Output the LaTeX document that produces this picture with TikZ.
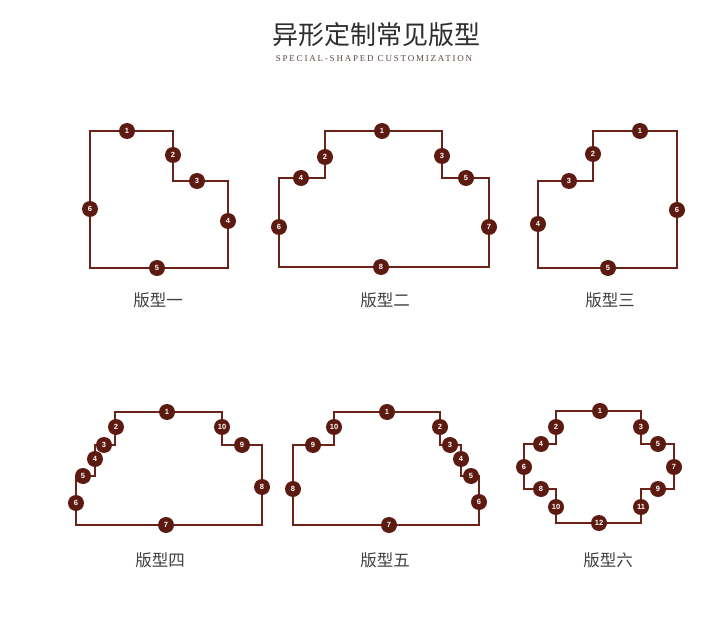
\documentclass[tikz,border=0pt]{standalone}
\usepackage{fontspec}
\setmainfont{Liberation Serif}
\newfontfamily\cjk{Noto Sans CJK SC}
\newfontfamily\numfont{Liberation Sans}
\definecolor{wine}{HTML}{5C1A11}
\definecolor{wineline}{HTML}{6A2319}
\definecolor{subgray}{HTML}{5E4843}

\begin{document}
\begin{tikzpicture}[x=1pt,y=-1pt,
  outline/.style={wineline,line width=1.8pt},
  num/.style={circle,fill=wine,inner sep=0pt,minimum size=16pt,text=white,
    font=\numfont\bfseries\fontsize{7.5}{7.5}\selectfont},
  caption/.style={text=black!75,font=\cjk\fontsize{16.5}{16.5}\selectfont}]
  \useasboundingbox[fill=white] (0,0) rectangle (720,620);

  % title
  \node[text=black!82,font=\cjk\fontsize{26}{26}\selectfont] (title) at (376,35) {异形定制常见版型};
  \node[text=subgray,font=\fontsize{9}{9}\selectfont\addfontfeature{LetterSpace=20}] (subtitle) at (374,59) {SPECIAL-SHAPED CUSTOMIZATION};

  % type 1
  \draw[outline] (90,131) -- (173,131) -- (173,181) -- (228,181) -- (228,268) -- (90,268) -- cycle;
  \foreach \n/\x/\y in {1/127/131,2/173/155,3/197/181,4/228/221,5/157/268,6/90/209}
    \node[num] (a\n) at (\x,\y) {\n};
  \node[caption] (capa) at (158,300) {版型一};

  % type 2
  \draw[outline] (325,131) -- (442,131) -- (442,178) -- (489,178) -- (489,267) -- (279,267) -- (279,178) -- (325,178) -- cycle;
  \foreach \n/\x/\y in {1/382/131,2/325/157,3/442/156,4/301/178,5/466/178,6/279/227,7/489/227,8/381/267}
    \node[num] (b\n) at (\x,\y) {\n};
  \node[caption] (capb) at (385,300) {版型二};

  % type 3
  \draw[outline] (593,131) -- (677,131) -- (677,268) -- (538,268) -- (538,181) -- (593,181) -- cycle;
  \foreach \n/\x/\y in {1/640/131,2/593/154,3/569/181,4/538/224,5/608/268,6/677/210}
    \node[num] (c\n) at (\x,\y) {\n};
  \node[caption] (capc) at (610,300) {版型三};

  % type 4
  \draw[outline] (115,412) -- (222,412) -- (222,445) -- (262,445) -- (262,525) -- (76,525) -- (76,476)
    -- (95,476) -- (95,445) -- (115,445) -- cycle;
  \foreach \n/\x/\y in {1/167/412,2/116/427,3/104/445,4/95/459,5/83/476,6/76/503,7/166/525,8/262/487,9/242/445,10/222/427}
    \node[num] (d\n) at (\x,\y) {\n};
  \node[caption] (capd) at (160,560) {版型四};

  % type 5
  \draw[outline] (334,412) -- (440,412) -- (440,445) -- (461,445) -- (461,476) -- (479,476) -- (479,525)
    -- (293,525) -- (293,445) -- (334,445) -- cycle;
  \foreach \n/\x/\y in {1/387/412,2/440/427,3/450/445,4/461/459,5/471/476,6/479/502,7/389/525,8/293/489,9/313/445,10/334/427}
    \node[num] (e\n) at (\x,\y) {\n};
  \node[caption] (cape) at (385,560) {版型五};

  % type 6
  \draw[outline] (556,411) -- (641,411) -- (641,444) -- (674,444) -- (674,489) -- (641,489) -- (641,523)
    -- (556,523) -- (556,489) -- (524,489) -- (524,444) -- (556,444) -- cycle;
  \foreach \n/\x/\y in {1/600/411,2/556/427,3/641/427,4/541/444,5/658/444,6/524/467,7/674/467,8/541/489,9/658/489,10/556/507,11/641/507,12/599/523}
    \node[num] (f\n) at (\x,\y) {\n};
  \node[caption] (capf) at (608,560) {版型六};
\end{tikzpicture}
\end{document}
